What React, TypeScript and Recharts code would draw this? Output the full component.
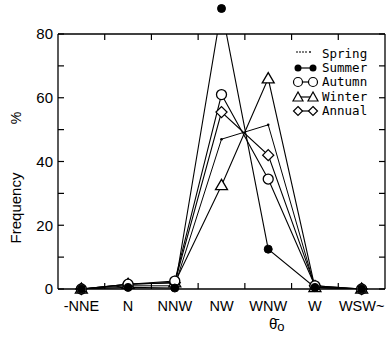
import React from 'react';
import { LineChart, Line, XAxis, YAxis, Legend } from 'recharts';

const categories = ['-NNE', 'N', 'NNW', 'NW', 'WNW', 'W', 'WSW~'];
const spring = [0, 1, 1, 47, 51.5, 0.5, 0];
const summer = [0, 0.5, 0.3, 88, 12.5, 0.5, 0];
const autumn = [0, 1.5, 2.5, 61, 34.5, 1, 0];
const winter = [0, 1.5, 2, 32.5, 66, 0.5, 0];
const annual = [0, 1.5, 2, 55.5, 42, 1, 0];
const yTicks = [0, 10, 20, 30, 40, 50, 60, 70, 80];
const labelTicks = [0, 1, 2, 3, 4, 5, 6];
const boundaryTicks = [0.5, 1.5, 2.5, 3.5, 4.5, 5.5];
const legendNames = ['Spring', 'Summer', 'Autumn', 'Winter', 'Annual'];

const data = categories.map((c, i) => ({
  x: i,
  name: c,
  spring: spring[i],
  summer: summer[i],
  autumn: autumn[i],
  winter: winter[i],
  annual: annual[i],
}));

const SANS = '"Liberation Sans", Arial, Helvetica, sans-serif';
const MONO = '"DejaVu Sans Mono", "Liberation Mono", monospace';
const BLANK = () => '';

const OpenCircle = (p: any) => {
  const { cx, cy } = p;
  if (cx == null || cy == null) return null;
  return <circle key={p.key} cx={cx} cy={cy} r={5} fill="#fff" stroke="#000" strokeWidth={1.3} />;
};
const FilledCircle = (p: any) => {
  const { cx, cy } = p;
  if (cx == null || cy == null) return null;
  return <circle key={p.key} cx={cx} cy={cy} r={4} fill="#000" stroke="#000" strokeWidth={1} />;
};
const Triangle = (p: any) => {
  const { cx, cy } = p;
  if (cx == null || cy == null) return null;
  const s = 6;
  return (
    <polygon
      key={p.key}
      points={`${cx},${cy - s} ${cx - s},${cy + s * 0.7} ${cx + s},${cy + s * 0.7}`}
      fill="#fff"
      stroke="#000"
      strokeWidth={1.3}
    />
  );
};
const Diamond = (p: any) => {
  const { cx, cy } = p;
  if (cx == null || cy == null) return null;
  const s = 5.5;
  return (
    <polygon
      key={p.key}
      points={`${cx},${cy - s} ${cx + s},${cy} ${cx},${cy + s} ${cx - s},${cy}`}
      fill="#fff"
      stroke="#000"
      strokeWidth={1.3}
    />
  );
};
const SmallDot = (p: any) => {
  const { cx, cy } = p;
  if (cx == null || cy == null) return null;
  return <circle key={p.key} cx={cx} cy={cy} r={1.3} fill="#000" />;
};

const legendSymbol = (name: string) => {
  const y = 7;
  if (name === 'Spring') {
    return (
      <g>
        <line x1={6} y1={y - 2} x2={18} y2={y - 2} stroke="#000" strokeWidth={1} strokeDasharray="2 1" />
        <circle cx={20} cy={y - 2} r={0.9} fill="#000" />
      </g>
    );
  }
  const a = 8, b = 23;
  let mk = (cx: number) => <circle cx={cx} cy={y} r={3.5} fill="#000" />;
  if (name === 'Autumn') mk = (cx) => <circle cx={cx} cy={y} r={4.5} fill="#fff" stroke="#000" strokeWidth={1.2} />;
  if (name === 'Winter')
    mk = (cx) => (
      <polygon points={`${cx},${y - 5} ${cx - 5},${y + 4} ${cx + 5},${y + 4}`} fill="#fff" stroke="#000" strokeWidth={1.2} />
    );
  if (name === 'Annual')
    mk = (cx) => (
      <polygon points={`${cx},${y - 4.5} ${cx + 4.5},${y} ${cx},${y + 4.5} ${cx - 4.5},${y}`} fill="#fff" stroke="#000" strokeWidth={1.2} />
    );
  return (
    <g>
      <line x1={a} y1={y} x2={b} y2={y} stroke="#000" strokeWidth={1.2} />
      {mk(a)}
      {mk(b)}
    </g>
  );
};

const renderLegend = () => (
  <div style={{ display: 'flex', flexDirection: 'column' }}>
    {legendNames.map((n) => (
      <div key={n} style={{ display: 'flex', alignItems: 'center', height: 14.2 }}>
        <svg width={31} height={14} style={{ display: 'block' }}>
          {legendSymbol(n)}
        </svg>
        <span style={{ fontFamily: MONO, fontSize: 12.5, lineHeight: '14px', color: '#000', marginLeft: 1 }}>{n}</span>
      </div>
    ))}
  </div>
);

const axisLine = { stroke: '#000', strokeWidth: 1.3 };
const tickLine = { stroke: '#000', strokeWidth: 1.2 };

export default function App() {
  return (
    <div style={{ position: 'absolute', left: 0, top: 0, width: 387, height: 339, background: '#fff' }}>
      <style>{`.recharts-layer, .recharts-line, .recharts-line-dots { clip-path: none !important; }`}</style>
      <LineChart width={387} height={339} data={data} margin={{ top: 33, right: 0, bottom: 0, left: 0 }}>
        <XAxis
          xAxisId="b"
          dataKey="x"
          type="number"
          domain={[-0.5, 6.5]}
          ticks={boundaryTicks}
          interval={0}
          height={1}
          tickSize={-6}
          tickFormatter={BLANK}
          tickLine={tickLine}
          axisLine={axisLine}
        />
        <XAxis
          xAxisId="lab"
          dataKey="x"
          type="number"
          domain={[-0.5, 6.5]}
          ticks={labelTicks}
          interval={0}
          height={49}
          tickLine={false}
          axisLine={false}
          tickSize={1}
          tickMargin={10}
          tickFormatter={(v: number) => categories[v]}
          tick={{ fill: '#000', fontFamily: SANS, fontSize: 14.5 }}
        />
        <XAxis
          xAxisId="t"
          orientation="top"
          dataKey="x"
          type="number"
          domain={[-0.5, 6.5]}
          ticks={boundaryTicks}
          interval={0}
          height={1}
          tickSize={-6}
          tickFormatter={BLANK}
          tickLine={tickLine}
          axisLine={axisLine}
        />
        <YAxis
          yAxisId="l"
          type="number"
          domain={[0, 80]}
          allowDataOverflow
          ticks={yTicks}
          interval={0}
          width={58}
          tickSize={-6}
          tickMargin={11}
          tickFormatter={(v: number) => (v % 20 === 0 ? String(v) : '')}
          tick={{ fill: '#000', fontFamily: SANS, fontSize: 15 }}
          tickLine={tickLine}
          axisLine={axisLine}
        />
        <YAxis
          yAxisId="r"
          orientation="right"
          type="number"
          domain={[0, 80]}
          allowDataOverflow
          ticks={yTicks}
          interval={0}
          width={2}
          tickSize={-6}
          tickFormatter={BLANK}
          tickLine={tickLine}
          axisLine={axisLine}
        />
        <Legend
          layout="vertical"
          align="center"
          verticalAlign="middle"
          content={renderLegend}
          wrapperStyle={{ position: 'absolute', left: 290, top: 47, width: 95, height: 75 }}
        />
        <Line xAxisId="b" yAxisId="l" dataKey="spring" type="linear" stroke="#000" strokeWidth={1} dot={<SmallDot />} isAnimationActive={false} />
        <Line xAxisId="b" yAxisId="l" dataKey="winter" type="linear" stroke="#000" strokeWidth={1.1} dot={<Triangle />} isAnimationActive={false} />
        <Line xAxisId="b" yAxisId="l" dataKey="annual" type="linear" stroke="#000" strokeWidth={1.1} dot={<Diamond />} isAnimationActive={false} />
        <Line xAxisId="b" yAxisId="l" dataKey="autumn" type="linear" stroke="#000" strokeWidth={1.1} dot={<OpenCircle />} isAnimationActive={false} />
        <Line xAxisId="b" yAxisId="l" dataKey="summer" type="linear" stroke="#000" strokeWidth={1.1} dot={<FilledCircle />} isAnimationActive={false} />
      </LineChart>
      <svg width={387} height={339} style={{ position: 'absolute', left: 0, top: 0, pointerEvents: 'none' }}>
        <text x={21} y={208} transform="rotate(-90 21 208)" textAnchor="middle" fontFamily={SANS} fontSize={15} fill="#000">
          Frequency
        </text>
        <text x={21} y={118} transform="rotate(-90 21 118)" textAnchor="middle" fontFamily={SANS} fontSize={14} fill="#000">
          %
        </text>
        <text x={269} y={329} fontFamily={SANS} fontSize={15} fill="#000">
          θ̄<tspan fontSize={13} dy={2}>o</tspan>
        </text>
      </svg>
    </div>
  );
}
